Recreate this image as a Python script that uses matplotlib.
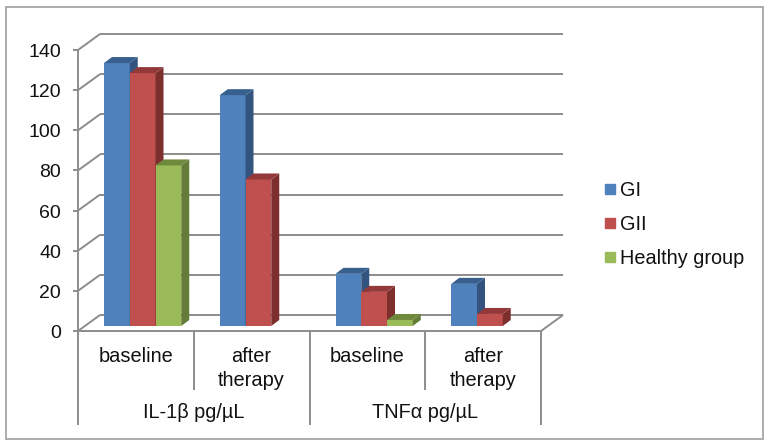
import matplotlib
matplotlib.use('Agg')
import matplotlib.pyplot as plt
from matplotlib.patches import Polygon, Rectangle

plt.rcParams['font.family'] = ['Liberation Sans', 'DejaVu Sans']

categories = ["baseline", "after\ntherapy", "baseline", "after\ntherapy"]
groups = ["IL-1β pg/µL", "TNFα pg/µL"]
series_names = ["GI", "GII", "Healthy group"]
gi = [131, 115, 26, 21]
gii = [126, 73, 17, 6]
healthy = [80, None, 3, None]
y_ticks = [0, 20, 40, 60, 80, 100, 120, 140]

front = ["#4F81BD", "#C0504D", "#9BBB59"]
side = ["#32547F", "#7D2F2D", "#657C38"]
top = ["#37608F", "#94393A", "#6F8A3D"]
grid = "#8C8C8C"

W, H = 770, 446
fig = plt.figure(figsize=(W/100, H/100), dpi=100)
fig.patch.set_facecolor("white")

# axes sit on the front plane of the fake 3d box
left, right, y0, y140 = 78, 541, 331, 50
ax = fig.add_axes([left/W, 1-y0/H, (right-left)/W, (y0-y140)/H])
ax.set_xlim(0, 4)
ax.set_ylim(0, 140)
ax.axis("off")

px_x = 4/(right-left)
px_y = 140/(y0-y140)
back_x = 22*px_x
back_y = 16*px_y
bar_dx = 8*px_x
bar_dy = 6*px_y
bar_base = 5*px_y
bar_w = 25.75*px_x
bar_start = 26*px_x

# outer frame
fig.add_artist(Rectangle((6/W, 1-439/H), 757/W, 432/H, fill=False, ec="#A6A6A6", lw=1.3,
                         transform=fig.transFigure))

line = dict(color=grid, lw=1.4, clip_on=False, zorder=1, solid_capstyle="butt")
for t in y_ticks:
    ax.plot([back_x, 4+back_x], [t+back_y, t+back_y], **line)
    ax.plot([0, back_x], [t, t+back_y], **line)
    ax.plot([-5*px_x, 0], [t, t], **line)
    ax.text(-17*px_x, t-2.5*px_y, str(t), ha="right", va="center", fontsize=14, color="#111111")
ax.plot([0, 0], [0, 140], **line)
ax.plot([0, 4], [0, 0], **line)
ax.plot([4, 4+back_x], [0, back_y], **line)

# category axis lines below the floor
for i in range(5):
    bottom_px = 94 if i % 2 == 0 else 59
    ax.plot([i, i], [0, -bottom_px*px_y], **line)
for i, c in enumerate(categories):
    ax.text(i+0.5, -16*px_y, c, ha="center", va="top", fontsize=14.4, color="#111111", linespacing=1.3)
for i, g in enumerate(groups):
    ax.text(2*i+1, -82*px_y, g, ha="center", va="center", fontsize=14.3, color="#111111")

for s, vals in enumerate([gi, gii, healthy]):
    for i, v in enumerate(vals):
        if v is None:
            continue
        x = i + bar_start + s*bar_w
        x2 = x + bar_w
        ytop = v + bar_base
        ax.bar(x, v, bar_w, bottom=bar_base, align="edge", color=front[s], clip_on=False, zorder=3+s+i*4)
        ax.add_patch(Polygon([(x2, bar_base), (x2+bar_dx, bar_base+bar_dy), (x2+bar_dx, ytop+bar_dy), (x2, ytop)],
                             color=side[s], clip_on=False, zorder=3+s+i*4, lw=0))
        ax.add_patch(Polygon([(x, ytop), (x+bar_dx, ytop+bar_dy), (x2+bar_dx, ytop+bar_dy), (x2, ytop)],
                             color=top[s], clip_on=False, zorder=3+s+i*4, lw=0))

# legend, built by hand so it sits like the original
for name, col, ypx in zip(series_names, front, [189, 223, 257]):
    fig.add_artist(Rectangle((605/W, 1-(ypx+5)/H), 10/W, 10/H, color=col, transform=fig.transFigure))
    fig.text(620/W, 1-(ypx+7)/H, name, ha="left", va="baseline", fontsize=14.3, color="#111111")

fig.savefig("out.png", dpi=100)
